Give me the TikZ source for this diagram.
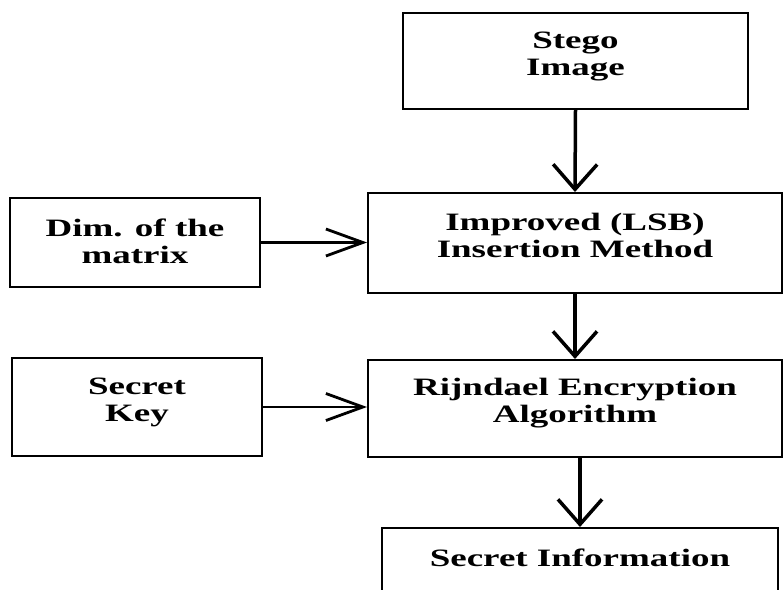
\documentclass[tikz,border=0pt]{standalone}
\usepackage{fontspec}
\newfontfamily\boxfont{Liberation Serif}[FakeStretch=1.48]
\usetikzlibrary{arrows.meta,positioning}

\begin{document}
\begin{tikzpicture}[x=1pt, y=-1pt, line width=2pt,
  box/.style={draw, rectangle, align=center, inner sep=0pt,
    font=\boxfont\bfseries\fontsize{25}{27}\selectfont,
    text height=33pt, text depth=5pt},
  down/.style={-{Straight Barb[length=25pt,width=44pt]}, line width=3.5pt},
  side/.style={-{Straight Barb[length=37pt,width=27pt]}, line width=2.8pt}]
\useasboundingbox (0,0) rectangle (784,589);
\node[box, minimum width=345pt, minimum height=96pt]  (stego) at (575.5,61)  {Stego\\Image};
\node[box, minimum width=414pt, minimum height=100pt] (lsb)   at (575,243)   {Improved (LSB)\\Insertion Method};
\node[box, minimum width=250pt, minimum height=89pt, text height=46pt] (dim) at (135,242.5) {Dim. of the\\matrix};
\node[box, minimum width=250pt, minimum height=98pt]  (key)   at (137,407)   {Secret\\Key};
\node[box, minimum width=414pt, minimum height=97pt]  (rijn)  at (575,408.5) {Rijndael Encryption\\Algorithm};
\node[box, minimum width=396pt, anchor=north, inner ysep=20pt, text height=18pt, text depth=60pt] (info) at (580,527) {Secret Information};
% data flow
\draw[down] (stego.south) -- (lsb.north);
\draw[down] (lsb.south) -- (rijn.north);
\draw[down] (rijn.south -| info.north) -- (info.north);
\draw[side] (dim.east) -- (dim.east -| lsb.west);
\draw[side] (key.east) -- (key.east -| rijn.west);
\end{tikzpicture}
\end{document}
